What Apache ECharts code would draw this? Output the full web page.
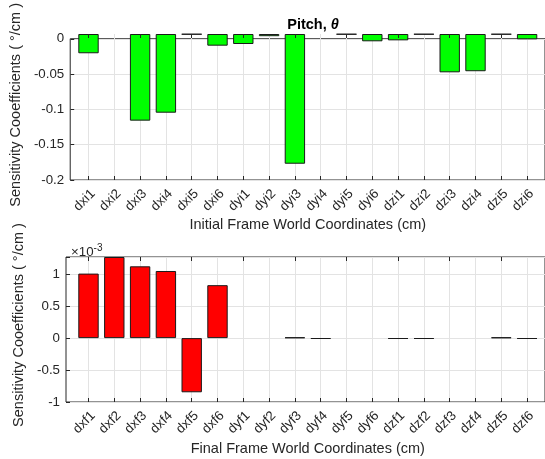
<!DOCTYPE html>
<html>
<head>
<meta charset="utf-8">
<script src="https://cdn.jsdelivr.net/npm/echarts@6/dist/echarts.min.js"></script>
<style>
  html, body { margin: 0; padding: 0; background: #fff; }
  #chart { width: 545px; height: 459px; }
</style>
</head>
<body>
<div id="chart"></div>
<script>
// Pitch sensitivity coefficients per coordinate (°/cm)
const initialLabels = ['dxi1', 'dxi2', 'dxi3', 'dxi4', 'dxi5', 'dxi6',
                       'dyi1', 'dyi2', 'dyi3', 'dyi4', 'dyi5', 'dyi6',
                       'dzi1', 'dzi2', 'dzi3', 'dzi4', 'dzi5', 'dzi6'];
const initialCoeffs = [-0.0264, 0, -0.1187, -0.1078, -0.0006, -0.0160,
                       -0.0137, -0.0030, -0.1777, 0, -0.0006, -0.0100,
                       -0.0087, -0.0006, -0.0525, -0.0510, -0.0006, -0.0073];

const finalLabels = ['dxf1', 'dxf2', 'dxf3', 'dxf4', 'dxf5', 'dxf6',
                     'dyf1', 'dyf2', 'dyf3', 'dyf4', 'dyf5', 'dyf6',
                     'dzf1', 'dzf2', 'dzf3', 'dzf4', 'dzf5', 'dzf6'];
// final-frame values are in units of 1e-3 °/cm
const finalCoeffsE3 = [1.010, 1.270, 1.124, 1.051, -0.848, 0.829,
                       0, 0, 0.012, -0.012, 0, 0,
                       -0.012, -0.012, 0, 0, 0.012, -0.012];

const initialTicks = [-0.2, -0.15, -0.1, -0.05, 0];
const finalTicks = [-1, -0.5, 0, 0.5, 1];

const FONT = "'Liberation Sans', Arial, Helvetica, sans-serif";
const INK = '#262626';
const GRID = '#e3e3e3';

const chart = echarts.init(document.getElementById('chart'), null, { renderer: 'canvas' });

// Each panel uses two grids: an outer frame grid carrying the y axis,
// horizontal gridlines and box, and an inner grid holding the category bars.
const panels = [
  { top: 34, height: 146, labels: initialLabels, values: initialCoeffs,
    min: -0.2, max: 0, interval: 0.05, ticks: initialTicks, color: '#00ff00',
    xName: 'Initial Frame World Coordinates (cm)', nameGap: 37 },
  { top: 257, height: 145, labels: finalLabels, values: finalCoeffsE3,
    min: -1, max: 1.27, interval: 0.5, ticks: finalTicks, color: '#ff0000',
    xName: 'Final Frame World Coordinates (cm)', nameGap: 39 }
];

const grid = [], xAxis = [], yAxis = [], series = [];
panels.forEach((p) => {
  const frameIdx = grid.length;
  grid.push({ left: 66, right: -5, top: p.top, height: p.height, show: true,
              borderColor: INK, borderWidth: 1, backgroundColor: '#fff' });
  const barIdx = grid.length;
  grid.push({ left: 75.6, width: 464.4, top: p.top, height: p.height });

  // frame x axis (hidden)
  xAxis.push({ gridIndex: frameIdx, type: 'value', min: 0, max: 1, show: false });
  // frame y axis with ticks, labels and gridlines
  yAxis.push({
    gridIndex: frameIdx, type: 'value', min: p.min, max: p.max, interval: p.interval,
    axisLine: { show: false },
    axisTick: { show: true, inside: true, length: 4, lineStyle: { color: INK } },
    axisLabel: {
      color: INK, fontFamily: FONT, fontSize: 13.3, margin: 6,
      formatter: v => (p.ticks.some(t => Math.abs(t - v) < 1e-9) ? String(+v.toFixed(3)) : '')
    },
    splitLine: { show: true, lineStyle: { color: GRID, width: 1 } },
    name: 'Sensitivity Cooefficients ( °/cm )',
    nameLocation: 'middle', nameRotate: 90, nameGap: 38,
    nameTextStyle: { color: INK, fontFamily: FONT, fontSize: 14.5, padding: [0, 0, 0, 9] }
  });

  // category axis of the bar grid
  xAxis.push({
    gridIndex: barIdx, type: 'category', data: p.labels, position: 'bottom',
    axisLine: { show: false, onZero: false },
    axisTick: { show: true, inside: true, length: 4, alignWithLabel: true, lineStyle: { color: INK } },
    splitLine: { show: true, alignWithLabel: true, lineStyle: { color: GRID, width: 1 } },
    axisLabel: { interval: 0, rotate: 45, verticalAlign: 'top', color: INK,
                 fontFamily: FONT, fontSize: 13.3, margin: 7 },
    name: p.xName, nameLocation: 'middle', nameGap: p.nameGap,
    nameTextStyle: { color: INK, fontFamily: FONT, fontSize: 14.5 }
  });
  // mirrored ticks along the top edge of the box, drawn above the bars
  xAxis.push({
    gridIndex: barIdx, type: 'category', data: p.labels, position: 'top', z: 6,
    axisLine: { show: false, onZero: false }, axisLabel: { show: false }, splitLine: { show: false },
    axisTick: { show: true, inside: true, length: 4, alignWithLabel: true, lineStyle: { color: INK } }
  });
  yAxis.push({ gridIndex: barIdx, type: 'value', min: p.min, max: p.max, show: false });

  // bars of exactly zero height are left undrawn
  series.push({
    type: 'bar', xAxisIndex: xAxis.length - 2, yAxisIndex: yAxis.length - 1,
    data: p.values.map(v => (v === 0 ? '-' : v)), barWidth: '79%',
    itemStyle: { color: p.color, borderColor: '#1a1a1a', borderWidth: 1 },
    silent: true, z: 3
  });
});

chart.setOption({
  animation: false,
  backgroundColor: '#fff',
  title: [
    { text: 'Pitch, {t|θ}', left: 308, top: 12, textAlign: 'center',
      textStyle: { fontFamily: FONT, fontSize: 14.5, fontWeight: 'bold', color: '#000',
        rich: { t: { fontFamily: FONT, fontSize: 14.5, fontStyle: 'italic', fontWeight: 'bold', color: '#000' } } } },
    { text: '×10{s|-3}', left: 66, top: 238,
      textStyle: { fontFamily: FONT, fontSize: 13.3, fontWeight: 'normal', color: INK,
        rich: { s: { fontFamily: FONT, fontSize: 10, color: INK, verticalAlign: 'top', padding: [0, 0, 8, 0] } } } }
  ],
  grid, xAxis, yAxis, series
});
</script>
</body>
</html>
